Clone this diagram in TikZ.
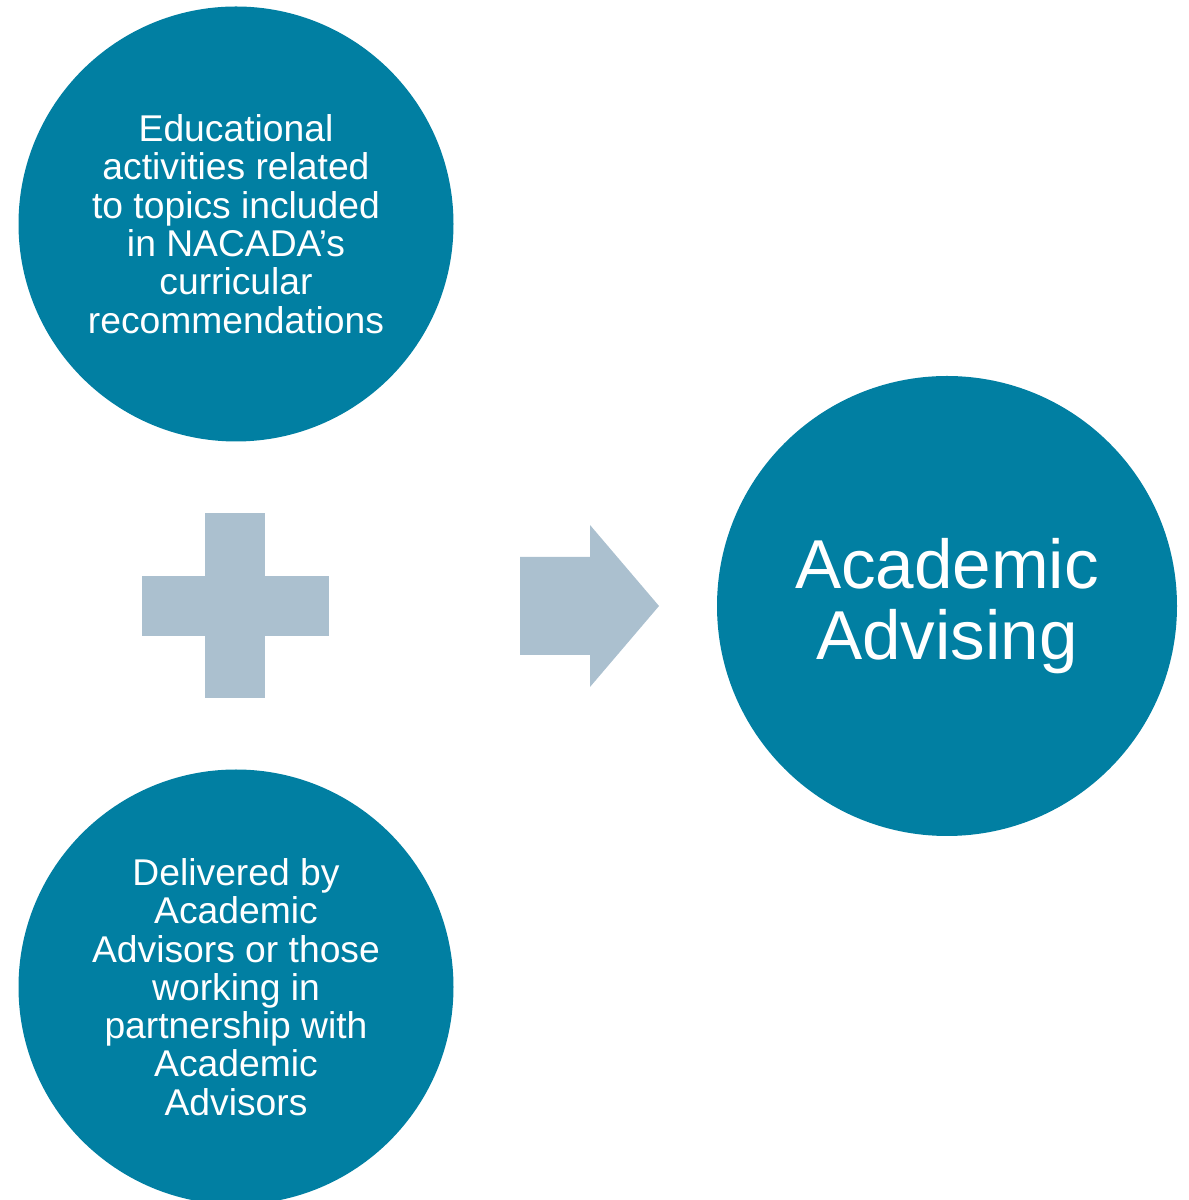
\documentclass[tikz,border=0pt]{standalone}
\usepackage{fontspec}
\setmainfont{Liberation Sans}
\usepackage{tikz}
\usetikzlibrary{
	positioning,
	shapes.geometric
}
\definecolor{main}{RGB}{1,127,162}
\definecolor{second}{RGB}{171,192,207}
\tikzset{
  % node
	cstcircle/.style  ={circle,fill=main,text=white,align=center,inner sep=0pt,minimum size=435*0.02cm,
	                    font=\fontsize{21.2pt}{21.8pt}\selectfont},
	cstbig/.style     ={cstcircle,minimum size=460*0.02cm,font=\fontsize{39.4pt}{40.8pt}\selectfont},
  % fill
	cstfill/.style    ={fill=second}
}
\begin{document}
\begin{tikzpicture}[x=0.02cm,y=0.02cm]
	\useasboundingbox (0,0) rectangle (1188,1200);
	\node[cstcircle] (edu) at (236,976) {Educational\\activities related\\to topics included\\in NACADA’s\\curricular\\recommendations};
	\node[cstcircle] (del) at (236,213) {Delivered by\\Academic\\Advisors or those\\working in\\partnership with\\Academic\\Advisors};
	\node[cstbig] (adv) at (947,594) {Academic\\Advising};
	% plus
	\fill[cstfill] (205,502) rectangle (265,687);
	\fill[cstfill] (142,564) rectangle (329,624);
	% arrow
	\fill[cstfill] (520,545) -- (590,545) -- (590,513) -- (659,594) -- (590,675) -- (590,643) -- (520,643) -- cycle;
\end{tikzpicture}
\end{document}
